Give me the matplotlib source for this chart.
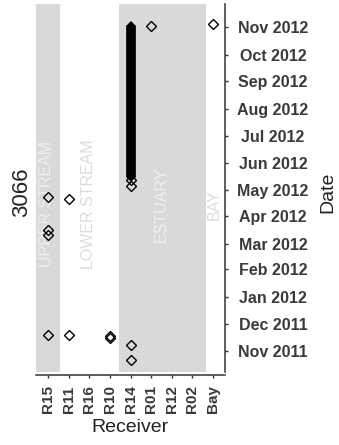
import matplotlib
matplotlib.use('Agg')
import matplotlib.pyplot as plt
import matplotlib.dates as mdates
import pandas as pd

plt.rcParams['font.family'] = ['Liberation Sans', 'DejaVu Sans']

receivers = ['R15', 'R11', 'R16', 'R10', 'R14', 'R01', 'R12', 'R02', 'Bay']

# single detections (receiver, date)
det_receiver = ['R15', 'R15', 'R15', 'R15',
                'R11', 'R11',
                'R10', 'R10',
                'R14', 'R14', 'R14', 'R14',
                'R01', 'Bay']
det_date = ['2011-11-19', '2012-03-11', '2012-03-17', '2012-04-23',
            '2011-11-19', '2012-04-21',
            '2011-11-16', '2011-11-18',
            '2011-10-22', '2011-11-08', '2012-05-05', '2012-05-12',
            '2012-11-02', '2012-11-05']

# near-daily detections at R14 (shown as a solid run)
run_receiver = ['R14', 'R14']
run_start = ['2012-05-16', '2012-06-28']
run_end = ['2012-06-26', '2012-11-03']

# habitat zones along the receiver axis
zone_names = ['UPPER STREAM', 'LOWER STREAM', 'ESTUARY', 'BAY']
zone_from = [0.4, 1.57, 4.43, 8.69]
zone_to = [1.57, 4.43, 8.69, 9.6]
zone_shaded = [True, False, True, False]
zone_label_x = [0.9, 2.95, 6.48, 9.1]

month_ticks = pd.date_range('2011-11-01', '2012-11-01', freq='MS')

xpos = {r: i + 1 for i, r in enumerate(receivers)}

fig = plt.figure(figsize=(3.39, 4.45), dpi=100)
ax = fig.add_axes([36/339, 73/445, 189/339, 368/445])

# spine position first: moving it resets the tick objects
ax.spines['left'].set_visible(False)
ax.spines['top'].set_visible(False)
ax.spines['bottom'].set_position(('outward', 2.2))
for side in ['right', 'bottom']:
    ax.spines[side].set_linewidth(1.1)
    ax.spines[side].set_color('#333333')

for x0, x1, shade in zip(zone_from, zone_to, zone_shaded):
    if shade:
        ax.axvspan(x0, x1, color='#d9d9d9', lw=0, zorder=0)

label_day = mdates.date2num(pd.Timestamp('2012-04-15'))
for name, lx, shade in zip(zone_names, zone_label_x, zone_shaded):
    ax.text(lx, label_day, name, rotation=90, ha='center', va='center',
            fontsize=11.5, color='#f0f0f0' if shade else '#dcdcdc', zorder=1)

for r, s, e in zip(run_receiver, run_start, run_end):
    x = xpos[r]
    ys = [mdates.date2num(pd.Timestamp(s)), mdates.date2num(pd.Timestamp(e))]
    ax.plot([x, x], ys, color='black', lw=7.0, solid_capstyle='butt', zorder=3)
    ax.plot([x, x], ys, ls='none', marker='D', ms=4.9, color='black', mew=0, zorder=3)

ax.plot([xpos[r] for r in det_receiver],
        [mdates.date2num(pd.Timestamp(d)) for d in det_date],
        ls='none', marker='D', ms=4.6, mfc='none', mec='black', mew=1.0, zorder=4)

ax.set_xlim(0.4, 9.6)
ax.set_ylim(mdates.date2num(pd.Timestamp('2011-10-08')),
            mdates.date2num(pd.Timestamp('2012-11-27 10:00')))

ax.yaxis.tick_right()
ax.tick_params(axis='x', length=2.5, width=1, color='#333333', pad=5)
ax.tick_params(axis='y', length=2.5, width=1, color='#333333', pad=32)

ax.set_xticks(range(1, len(receivers) + 1))
ax.set_xticklabels(receivers, rotation=90, fontsize=11, fontweight='bold',
                   color='#3a3a3a', va='top', ha='center')
ax.set_yticks(mdates.date2num(month_ticks))
ax.set_yticklabels([d.strftime('%b %Y') for d in month_ticks],
                   fontsize=11.5, fontweight='bold', color='#3a3a3a', ha='center')

fig.text(130/339, 1 - 428/445, 'Receiver', ha='center', va='center',
         fontsize=14, color='#222222')
fig.text(328/339, 1 - 192/445, 'Date', rotation=90, ha='center', va='center',
         fontsize=14, color='#222222')
fig.text(22/339, 1 - 192/445, '3066', rotation=90, ha='center', va='center',
         fontsize=16, color='#222222')

fig.savefig('out.png', dpi=100)
